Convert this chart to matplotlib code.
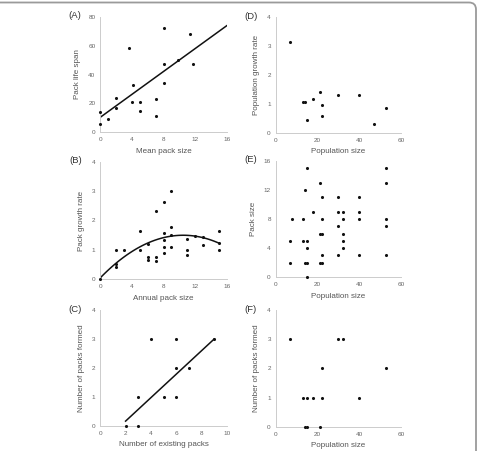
import numpy as np
import matplotlib.pyplot as plt
from matplotlib.patches import FancyBboxPatch

plt.rcParams['font.family'] = ['Liberation Sans', 'DejaVu Sans']

# (A) mean pack size vs pack life span
a_x = [0, 0, 1, 2, 2, 3.6, 4, 4.2, 5, 5, 7, 7, 8, 8, 8, 9.8, 11.4, 11.7]
a_y = [14, 6, 9, 24, 17, 58, 21, 33, 21, 15, 23, 11, 72, 47, 34, 50, 68, 47]
a_fit = [10.4, 3.96]          # intercept, slope
a_fit_range = [0, 16]

# (B) annual pack size vs pack growth rate
b_x = [0, 2, 2, 2, 3, 5, 5, 6, 6, 6, 7, 7, 7, 8, 8, 8, 8, 8,
       9, 9, 9, 9, 11, 11, 11, 12, 13, 13, 15, 15, 15]
b_y = [0, 0.52, 0.43, 1.0, 1.0, 1.65, 1.0, 1.19, 0.75, 0.66, 2.31, 0.75, 0.63,
       2.64, 1.59, 1.34, 1.11, 0.88, 3.0, 1.78, 1.5, 1.11, 1.36, 1.0, 0.84,
       1.48, 1.43, 1.17, 1.65, 1.25, 1.0]
b_fit = [0.05, 0.276, -0.01315]   # a + b x + c x^2
b_fit_range = [0, 15]

# (C) number of existing packs vs number of packs formed
c_x = [2, 3, 3, 4, 5, 6, 6, 6, 7, 9]
c_y = [0, 0, 1, 3, 1, 3, 2, 1, 2, 3]
c_fit = [-0.64, 0.404]
c_fit_range = [2, 9]

# (D) population size vs population growth rate
d_x = [7, 12.9, 14, 15, 18, 21, 22, 22, 30, 40, 47.2, 53]
d_y = [3.13, 1.05, 1.05, 0.44, 1.16, 1.41, 0.97, 0.57, 1.32, 1.31, 0.29, 0.87]

# (E) population size vs pack size
e_x = [15, 21, 14, 22, 30, 40, 18, 30, 32, 40, 8, 13, 22, 32, 40, 30, 21, 22, 32,
       7, 13, 15, 32, 15, 32, 22, 30, 40, 7, 14, 15, 21, 22, 15,
       53, 53, 53, 53, 53]
e_y = [15, 13, 12, 11, 11, 11, 9, 9, 9, 9, 8, 8, 8, 8, 8, 7, 6, 6, 6,
       5, 5, 5, 5, 4, 4, 3, 3, 3, 2, 2, 2, 2, 2, 0,
       15, 13, 8, 7, 3]

# (F) population size vs number of packs formed
f_x = [7, 30, 32, 22, 13, 15, 18, 22, 40, 14, 15, 21, 53]
f_y = [3, 3, 3, 2, 1, 1, 1, 1, 1, 0, 0, 0, 2]

W, H = 478, 451
fig = plt.figure(figsize=(W / 100, H / 100), dpi=100)

# axes boxes in pixels: left, right, top, bottom
boxes = {
    'A': (100.3, 226.7, 16.7, 132.3),
    'D': (275.7, 401.0, 17.3, 132.7),
    'B': (100.3, 226.7, 161.7, 279.3),
    'E': (275.7, 401.0, 160.7, 277.3),
    'C': (100.3, 226.7, 310.0, 426.0),
    'F': (275.7, 401.0, 310.0, 426.7),
}

panels = {
    'A': (a_x, a_y, (0, 16), [0, 4, 8, 12, 16], (0, 80), [0, 20, 40, 60, 80],
          'Mean pack size', 'Pack life span'),
    'B': (b_x, b_y, (0, 16), [0, 4, 8, 12, 16], (0, 4), [0, 1, 2, 3, 4],
          'Annual pack size', 'Pack growth rate'),
    'C': (c_x, c_y, (0, 10), [0, 2, 4, 6, 8, 10], (0, 4), [0, 1, 2, 3, 4],
          'Number of existing packs', 'Number of packs formed'),
    'D': (d_x, d_y, (0, 60), [0, 20, 40, 60], (0, 4), [0, 1, 2, 3, 4],
          'Population size', 'Population growth rate'),
    'E': (e_x, e_y, (0, 60), [0, 20, 40, 60], (0, 16), [0, 4, 8, 12, 16],
          'Population size', 'Pack size'),
    'F': (f_x, f_y, (0, 60), [0, 20, 40, 60], (0, 4), [0, 1, 2, 3, 4],
          'Population size', 'Number of packs formed'),
}

axes = {}
for key, (l, r, t, b) in boxes.items():
    ax = fig.add_axes([l / W, 1 - b / H, (r - l) / W, (b - t) / H])
    xs, ys, xlim, xt, ylim, yt, xl, yl = panels[key]
    ax.scatter(xs, ys, s=5, color='#111111', linewidths=0, clip_on=False, zorder=3)
    ax.set_xlim(*xlim)
    ax.set_ylim(*ylim)
    ax.set_xticks(xt)
    ax.set_yticks(yt)
    for s in ['top', 'right']:
        ax.spines[s].set_visible(False)
    for s in ['left', 'bottom']:
        ax.spines[s].set_color('#cccccc')
        ax.spines[s].set_linewidth(0.7)
    ax.tick_params(length=0, labelsize=4.6, colors='#666666', pad=3.5)
    ax.set_xlabel(xl, fontsize=5.8, color='#555555', labelpad=4)
    ax.set_ylabel(yl, fontsize=5.8, color='#555555', labelpad=5)
    ax.patch.set_alpha(0)
    # panel letter
    lx = l - 25
    fig.text(lx / W, 1 - (t - 1) / H, '(%s)' % key, fontsize=6.8,
             color='#333333', ha='center', va='center')
    axes[key] = ax

# fitted lines
xa = np.linspace(a_fit_range[0], a_fit_range[1], 50)
axes['A'].plot(xa, a_fit[0] + a_fit[1] * xa, color='#111111', lw=1.1, zorder=2)
xb = np.linspace(b_fit_range[0], b_fit_range[1], 100)
axes['B'].plot(xb, b_fit[0] + b_fit[1] * xb + b_fit[2] * xb ** 2,
               color='#111111', lw=1.1, zorder=2)
xc = np.linspace(c_fit_range[0], c_fit_range[1], 50)
axes['C'].plot(xc, c_fit[0] + c_fit[1] * xc, color='#111111', lw=1.1, zorder=2)

# outer frame (top + right edge, rounded corner)
frame = FancyBboxPatch((-30, -30), 506, 478.5,
                       boxstyle='round,pad=0,rounding_size=7',
                       transform=None, fill=False, edgecolor='#9a9a9a', lw=1.3)
fig.patches.append(frame)

fig.savefig('out.png', dpi=100)
